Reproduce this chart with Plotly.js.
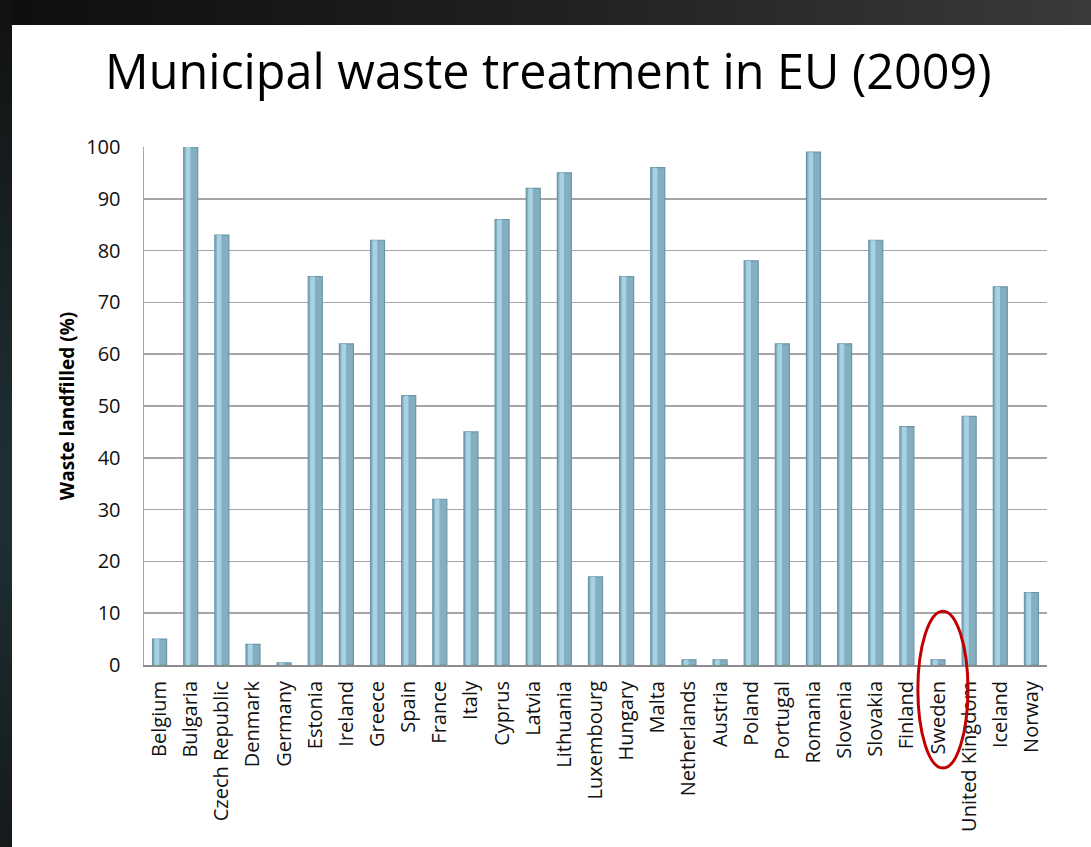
<!DOCTYPE html>
<html>
<head>
<meta charset="utf-8">
<script src="https://cdn.plot.ly/plotly-3.0.1.min.js"></script>
<style>
  html, body { margin:0; padding:0; width:1091px; height:847px; overflow:hidden;
    background: linear-gradient(90deg, #0e0e0e 0%, #202020 50%, #3a3a3a 100%); }
  #side { position:absolute; left:0; top:0; width:12px; height:847px;
    background: linear-gradient(180deg, #111 0%, #1c2a2e 45%, #1e3035 60%, #151a1b 100%); }
  #chart { position:absolute; left:12px; top:25px; width:1079px; height:822px; background:#fff; }
</style>
</head>
<body>
<div id="side"></div>
<div id="chart"></div>
<script>
const countries = ["Belgium","Bulgaria","Czech Republic","Denmark","Germany","Estonia","Ireland","Greece","Spain","France","Italy","Cyprus","Latvia","Lithuania","Luxembourg","Hungary","Malta","Netherlands","Austria","Poland","Portugal","Romania","Slovenia","Slovakia","Finland","Sweden","United Kingdom","Iceland","Norway"];
const landfilled = [5,100,83,4,0.4,75,62,82,52,32,45,86,92,95,17,75,96,1,1,78,62,99,62,82,46,1,48,73,14];
const yTicks = [0,10,20,30,40,50,60,70,80,90,100];
const titleText = "Municipal waste treatment in EU (2009)";
const yTitle = "Waste landfilled (%)";

const FONT = '"Open Sans", sans-serif';

const bars = {
  type: 'bar', x: countries, y: landfilled, width: 0.45,
  marker: { color: '#84afc1', line: { color: '#6b95a8', width: 1.2 } },
  hoverinfo: 'x+y'
};
// lighter highlight stripe on each bar (cylinder shading)
const shine = {
  type: 'bar', x: countries, y: landfilled, width: 0.15, offset: -0.16,
  marker: { color: '#a6d2e3', line: { width: 0 } },
  hoverinfo: 'skip'
};

const layout = {
  width: 1079, height: 822,
  paper_bgcolor: '#ffffff', plot_bgcolor: '#ffffff',
  margin: { l: 132, r: 44, t: 122, b: 182 },
  barmode: 'overlay',
  showlegend: false,
  title: { text: titleText, x: 0.497, xref: 'container', xanchor: 'center',
           y: 0.943, yref: 'container', yanchor: 'middle',
           font: { family: FONT, size: 48.5, color: '#000' } },
  xaxis: { type: 'category', tickangle: -90, showgrid: false,
           showline: true, linecolor: '#8c8c8c', linewidth: 2,
           ticks: 'outside', ticklen: 6, tickcolor: 'rgba(0,0,0,0)',
           tickfont: { family: FONT, size: 20, color: '#111' } },
  yaxis: { range: [0, 100], tickvals: yTicks, showgrid: true, gridcolor: '#a6a6a6', gridwidth: 1.5,
           showline: true, linecolor: '#a6a6a6', linewidth: 1.5, zeroline: false,
           ticks: '', ticklen: 0, ticklabelstandoff: 18,
           tickfont: { family: FONT, size: 20, color: '#111' },
           title: { text: '<b>' + yTitle + '</b>', standoff: 6,
                    font: { family: FONT, size: 19, color: '#000' } } },
  shapes: [
    { type: 'circle', xref: 'paper', yref: 'paper', layer: 'above',
      x0: 0.857, x1: 0.9125, y0: -0.199, y1: 0.104,
      line: { color: '#c00000', width: 3 } }
  ]
};

Plotly.newPlot('chart', [bars, shine], layout, { displayModeBar: false, staticPlot: true });
</script>
</body>
</html>
